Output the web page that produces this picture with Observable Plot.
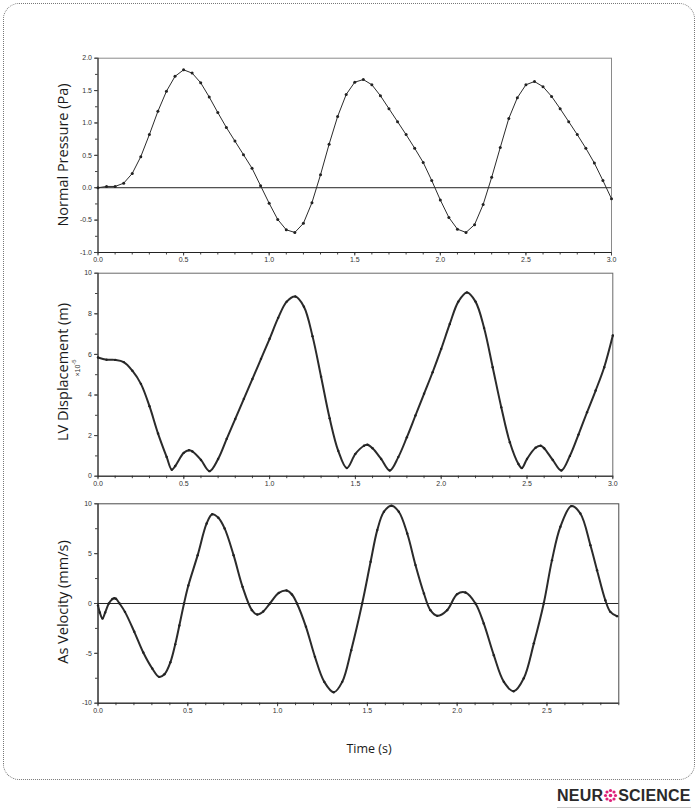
<!DOCTYPE html>
<html>
<head>
<meta charset="utf-8">
<script src="https://cdn.jsdelivr.net/npm/d3@7"></script>
<script src="https://cdn.jsdelivr.net/npm/@observablehq/plot@0.6"></script>
<style>
  body { margin:0; background:#fff; width:698px; height:810px; position:relative; overflow:hidden; font-family:"Open Sans", sans-serif; }
  #frame { position:absolute; left:3px; top:3px; width:690px; height:775px; border:1.3px dotted #777; border-radius:16px; }
  .panel { position:absolute; left:0; }
  .ylab { position:absolute; transform:translate(-50%,-50%) rotate(-90deg); white-space:nowrap; font-size:14.5px; color:#1a1a1a; }
  .exp { position:absolute; transform:translate(-50%,-50%) rotate(-90deg); white-space:nowrap; font-family:"Liberation Sans", sans-serif; font-size:7px; color:#333; }
  #xlab { position:absolute; left:369px; top:748px; transform:translate(-50%,-50%); font-size:12.5px; color:#1a1a1a; }
  #logo { position:absolute; left:557px; top:787px; font-family:"Liberation Sans", Arial, sans-serif; font-weight:bold; font-size:16px; color:#2a2a2a; letter-spacing:0.2px; white-space:nowrap; line-height:18px; border-bottom:1px solid #c8c8c8; padding-bottom:2px; }
  #logo svg { vertical-align:-2px; }
</style>
</head>
<body>
<div id="frame"></div>
<div id="p1" class="panel" style="top:30px"></div>
<div id="p2" class="panel" style="top:262px"></div>
<div id="p3" class="panel" style="top:490px"></div>
<div class="ylab" style="left:62px;top:155px">Normal Pressure (Pa)</div>
<div class="ylab" style="left:62px;top:372px">LV Displacement (m)</div>
<div class="exp" style="left:76px;top:368px">×10<sup>-5</sup></div>
<div class="ylab" style="left:62px;top:602px">As Velocity (mm/s)</div>
<div id="xlab">Time (s)</div>
<div id="logo">NEUR<svg width="15" height="15" viewBox="-7.5 -7.5 15 15"><g fill="#e0217a"><circle r="1.8"/><circle cx="0" cy="-5" r="1.6"/><circle cx="3.5" cy="-3.5" r="1.6"/><circle cx="5" cy="0" r="1.6"/><circle cx="3.5" cy="3.5" r="1.6"/><circle cx="0" cy="5" r="1.6"/><circle cx="-3.5" cy="3.5" r="1.6"/><circle cx="-5" cy="0" r="1.6"/><circle cx="-3.5" cy="-3.5" r="1.6"/></g></svg>SCIENCE</div>

<script>
// ---- Panel 1: Normal pressure (Pa) ----
const pressureTime = [0,0.05,0.1,0.15,0.2,0.25,0.3,0.35,0.4,0.45,0.5,0.55,0.6,0.65,0.7,0.75,0.8,0.85,0.9,0.95,
  1.0,1.05,1.1,1.15,1.2,1.25,1.3,1.35,1.4,1.45,1.5,1.55,1.6,1.65,1.7,1.75,1.8,1.85,1.9,1.95,
  2.0,2.05,2.1,2.15,2.2,2.25,2.3,2.35,2.4,2.45,2.5,2.55,2.6,2.65,2.7,2.75,2.8,2.85,2.9,2.95,3.0];
const pressureValue = [0.00,0.02,0.02,0.07,0.22,0.48,0.82,1.18,1.49,1.72,1.82,1.77,1.62,1.40,1.16,0.93,0.72,0.51,0.30,0.03,
  -0.24,-0.49,-0.65,-0.69,-0.55,-0.23,0.20,0.67,1.10,1.44,1.63,1.67,1.59,1.42,1.22,1.02,0.82,0.61,0.39,0.11,
  -0.19,-0.46,-0.64,-0.69,-0.57,-0.26,0.16,0.62,1.07,1.39,1.59,1.64,1.56,1.41,1.22,1.02,0.82,0.61,0.38,0.11,-0.17];

// ---- Panel 2: LV displacement (x1e-5 m) ----
const dispTime = [0,0.05,0.1,0.15,0.2,0.25,0.3,0.35,0.4,0.43,0.45,0.5,0.53,0.55,0.6,0.65,0.7,0.75,0.8,0.85,0.9,0.95,
  1.0,1.05,1.1,1.15,1.2,1.25,1.3,1.35,1.4,1.45,1.5,1.55,1.57,1.6,1.65,1.7,1.75,1.8,1.85,1.9,1.95,
  2.0,2.05,2.1,2.15,2.2,2.25,2.3,2.35,2.4,2.45,2.47,2.5,2.55,2.58,2.6,2.65,2.7,2.75,2.8,2.85,2.9,2.95,3.0];
const dispValue = [5.85,5.74,5.73,5.62,5.2,4.55,3.45,2.1,0.95,0.32,0.5,1.15,1.28,1.22,0.8,0.25,0.85,1.84,2.82,3.81,4.79,5.78,
  6.77,7.8,8.6,8.85,8.35,6.9,4.9,2.85,1.25,0.4,1.1,1.5,1.55,1.38,0.85,0.28,0.94,1.92,2.99,4.06,5.12,
  6.27,7.5,8.6,9.05,8.6,7.3,5.37,3.4,1.67,0.6,0.4,0.85,1.4,1.5,1.38,0.8,0.28,1.0,2.05,3.15,4.22,5.37,6.93];

// ---- Panel 3: As velocity (mm/s) ----
const velTime = [0,0.01,0.025,0.04,0.06,0.08,0.091,0.1,0.12,0.15,0.202,0.252,0.302,0.34,0.37,0.403,0.43,0.453,0.479,0.503,0.555,0.605,0.636,0.67,0.705,0.755,0.805,0.857,0.887,0.92,0.957,
  1.007,1.05,1.08,1.108,1.158,1.208,1.26,1.313,1.36,1.41,1.471,1.518,1.555,1.592,1.634,1.675,1.722,1.768,1.815,1.851,1.889,1.944,
  2.0,2.046,2.102,2.148,2.204,2.26,2.315,2.371,2.427,2.482,2.528,2.575,2.636,2.686,2.742,2.779,2.825,2.853,2.89];
const velValue = [-0.2,-0.9,-1.5,-0.9,0.0,0.45,0.53,0.47,0.0,-0.84,-2.84,-4.92,-6.52,-7.36,-7.1,-5.9,-4.1,-2.2,0.0,1.8,4.85,8.03,8.95,8.6,7.53,4.85,1.67,-0.67,-1.1,-0.8,0.0,
  1.07,1.3,0.9,0.0,-2.34,-5.35,-7.86,-8.9,-7.86,-4.68,0.0,4.18,7.36,9.2,9.8,9.2,7.02,3.85,1.0,-0.67,-1.24,-0.67,
  0.94,1.1,0.0,-2.0,-5.18,-7.86,-8.8,-7.5,-4.0,0.0,4.35,7.7,9.77,9.03,5.85,3.34,0.33,-0.84,-1.27];

// ---- Tick values ----
const xMajor3 = [0,0.5,1.0,1.5,2.0,2.5,3.0];
const xMajorVel = [0,0.5,1.0,1.5,2.0,2.5];
const pressureTicks = [-1.0,-0.5,0,0.5,1.0,1.5,2.0];
const dispTicks = [0,2,4,6,8,10];
const velTicks = [-10,-5,0,5,10];

const toRows = (ts, vs) => ts.map((t, i) => ({t, v: vs[i]}));
const minorSteps = (a, b, s) => d3.range(Math.round((b - a) / s) + 1).map(i => +(a + i * s).toFixed(4));

function panel(el, o) {
  const data = toRows(o.time, o.value);
  const blank = () => "";
  const marks = [
    Plot.frame({stroke: o.frameStroke}),
    Plot.axisX({ticks: o.xMinor, tickSize: 2.5, tickFormat: blank, label: null, stroke: "#444"}),
    Plot.axisX({ticks: o.xMajor, tickSize: 3.5, tickPadding: 1.5, tickFormat: d => d.toFixed(1), label: null, stroke: "#444", fill: "#333"}),
    Plot.axisY({ticks: o.yMinor, tickSize: 2.5, tickFormat: blank, label: null, stroke: "#444"}),
    Plot.axisY({ticks: o.yMajor, tickSize: 3.5, tickPadding: 2.5, tickFormat: o.yFmt, label: null, stroke: "#444", fill: "#333"}),
    Plot.ruleX([o.xDomain[0]], {stroke: "#222"}),
    Plot.ruleY([o.yDomain[0]], {stroke: "#222"}),
  ];
  if (o.zeroLine) marks.push(Plot.ruleY([0], {stroke: "#222", strokeWidth: 1}));
  marks.push(Plot.line(data, {x: "t", y: "v", stroke: "#2b2b2b", strokeWidth: o.lineWidth, curve: o.curve}));
  marks.push(Plot.dot(data, {x: "t", y: "v", r: o.dotR, fill: "#222", stroke: "none"}));
  const svg = Plot.plot({
    width: 698,
    height: o.height,
    marginLeft: 97.5,
    marginRight: o.marginRight,
    marginTop: o.marginTop,
    marginBottom: o.marginBottom,
    style: {background: "transparent", fontFamily: "'Liberation Sans', Arial, sans-serif", fontSize: "7px", color: "#333", overflow: "visible"},
    x: {domain: o.xDomain, label: null},
    y: {domain: o.yDomain, label: null},
    marks
  });
  document.getElementById(el).append(svg);
}

panel("p1", {
  time: pressureTime, value: pressureValue,
  xDomain: [0, 3], yDomain: [-1, 2],
  xMajor: xMajor3, xMinor: minorSteps(0, 3, 0.1),
  yMajor: pressureTicks, yMinor: minorSteps(-1, 2, 0.25),
  yFmt: d => d.toFixed(1),
  height: 242, marginTop: 27.7, marginBottom: 20, marginRight: 87,
  frameStroke: "#8a8a8a", zeroLine: true, lineWidth: 1, curve: "linear", dotR: 1.5
});

panel("p2", {
  time: dispTime, value: dispValue,
  xDomain: [0, 3], yDomain: [0, 10],
  xMajor: xMajor3, xMinor: minorSteps(0, 3, 0.1),
  yMajor: dispTicks, yMinor: minorSteps(0, 10, 1),
  yFmt: d => String(d),
  height: 234, marginTop: 10.7, marginBottom: 20.3, marginRight: 85.7,
  frameStroke: "#6a6a6a", zeroLine: false, lineWidth: 2, curve: "catmull-rom", dotR: 1.2
});

panel("p3", {
  time: velTime, value: velValue,
  xDomain: [0, 2.9], yDomain: [-10, 10],
  xMajor: xMajorVel, xMinor: minorSteps(0, 2.9, 0.1),
  yMajor: velTicks, yMinor: minorSteps(-10, 10, 2.5),
  yFmt: d => String(d),
  height: 232.7, marginTop: 13.3, marginBottom: 20, marginRight: 79.7,
  frameStroke: "#4a4a4a", zeroLine: true, lineWidth: 2, curve: "catmull-rom", dotR: 1.2
});
</script>
</body>
</html>
